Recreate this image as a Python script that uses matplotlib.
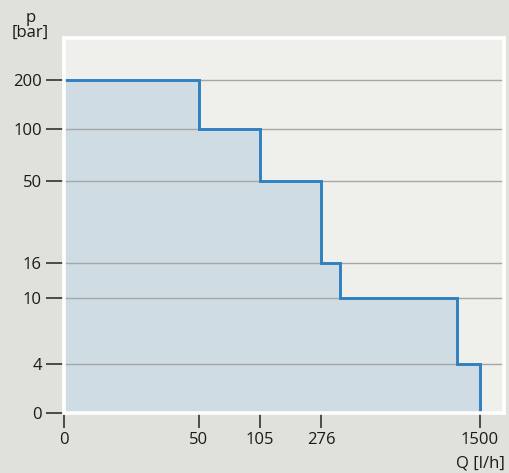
import numpy as np
import matplotlib.pyplot as plt

plt.rcParams['font.family'] = ['Open Sans', 'DejaVu Sans']

# flow breakpoints [l/h] and the max pressure [bar] on each segment
flow_edges = [0, 50, 105, 276, 420, 1320, 1500]
pressure = [200, 100, 50, 16, 10, 4]

x_ticks = [0, 50, 105, 276, 1500]
y_ticks = [0, 4, 10, 16, 50, 100, 200]

# piecewise axes (spacing between labelled values is not linear)
x_knots = np.array([0, 50, 105, 276, 1500, 3000])
x_pos = np.array([0, 135, 196, 257, 416, 611])
y_knots = np.array([0, 4, 10, 16, 50, 100, 200, 400])
y_pos = np.array([0, 49, 114, 149, 231, 282, 331, 380])


def fx(v):
    return np.interp(v, x_knots, x_pos)


def fx_inv(v):
    return np.interp(v, x_pos, x_knots)


def fy(v):
    return np.interp(v, y_knots, y_pos)


def fy_inv(v):
    return np.interp(v, y_pos, y_knots)


bg = '#e1e1db'
fig = plt.figure(figsize=(5.09, 4.73), dpi=100, facecolor=bg)
W, H = 509, 473
ax = fig.add_axes([64 / W, (H - 413) / H, 440 / W, 375 / H])
ax.set_facecolor('#efefeb')

ax.set_xscale('function', functions=(fx, fx_inv))
ax.set_yscale('function', functions=(fy, fy_inv))
ax.set_xlim(0, fx_inv(440))
ax.set_ylim(0, fy_inv(373))

# step outline: across each segment, then down to the next level
xs, ys = [], []
for i, p in enumerate(pressure):
    xs += [flow_edges[i], flow_edges[i + 1]]
    ys += [p, p]
xs.append(flow_edges[-1])
ys.append(0)

ax.fill_between(xs, ys, 0, color='#cfdce4', lw=0, zorder=1)
ax.plot(xs, ys, color='#2f80c1', lw=2.1, solid_joinstyle='miter', zorder=3)

for v in y_ticks[1:]:
    ax.axhline(v, color='#a6a6a6', lw=1.0, zorder=2)

ax.set_xticks(x_ticks)
ax.set_xticklabels([str(v) for v in x_ticks])
ax.set_yticks(y_ticks)
ax.set_yticklabels([str(v) for v in y_ticks])
ax.minorticks_off()
ax.tick_params(axis='x', length=11, width=1.1, color='#222222', pad=3,
               labelsize=12, labelcolor='#1a1a1a')
ax.tick_params(axis='y', length=13, width=1.1, color='#222222', pad=3,
               labelsize=12, labelcolor='#1a1a1a')

for side in ['left', 'bottom', 'top', 'right']:
    ax.spines[side].set_color('white')
    ax.spines[side].set_linewidth(2.6)
    ax.spines[side].set_zorder(4)

fig.text(31 / W, 1 - 18 / H, 'p', ha='center', va='center', fontsize=12, color='#1a1a1a')
fig.text(30 / W, 1 - 33 / H, '[bar]', ha='center', va='center', fontsize=12, color='#1a1a1a')
fig.text(505 / W, 1 - 463 / H, 'Q [l/h]', ha='right', va='center', fontsize=12, color='#1a1a1a')

fig.savefig('out.png', dpi=100, facecolor=bg)
